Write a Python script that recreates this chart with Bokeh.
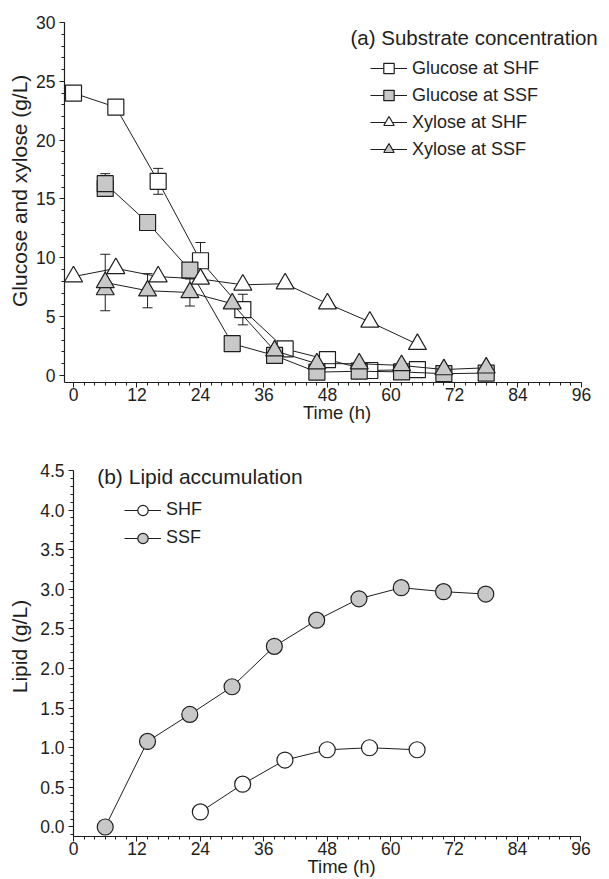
from bokeh.plotting import figure
from bokeh.models import (Range1d, SingleIntervalTicker, Legend, LegendItem, Label,
                          Whisker, ColumnDataSource, TeeHead, PrintfTickFormatter)
from bokeh.embed import file_html
from bokeh.resources import INLINE

# ---------------- data: (a) substrate concentration ----------------
glc_shf_t = [0, 8, 16, 24, 32, 40, 48, 56, 65]
glc_shf_v = [24.0, 22.8, 16.5, 9.75, 5.6, 2.25, 1.35, 0.42, 0.5]
glc_shf_e = [0, 0, 1.1, 1.55, 1.3, 0.3, 0.3, 0, 0]

glc_ssf_t = [6, 6, 14, 22, 30, 38, 46, 54, 62, 70, 78]
glc_ssf_v = [15.9, 16.3, 13.0, 8.95, 2.7, 1.7, 0.28, 0.36, 0.3, 0.15, 0.2]
glc_ssf_e = [0, 0.85, 0, 0, 0, 0, 0, 0, 0, 0, 0]

xyl_shf_t = [0, 8, 16, 24, 32, 40, 48, 56, 65]
xyl_shf_v = [8.4, 9.1, 8.4, 8.2, 7.7, 7.8, 6.1, 4.55, 2.65]
xyl_shf_e = [0, 0, 0, 0, 0, 0, 0, 0, 0]

xyl_ssf_t = [6, 6, 14, 22, 30, 38, 46, 54, 62, 70, 78]
xyl_ssf_v = [7.3, 7.9, 7.2, 7.05, 6.1, 2.1, 1.0, 1.0, 0.85, 0.5, 0.65]
xyl_ssf_e = [0, 2.4, 1.45, 1.15, 0, 0, 0, 0, 0, 0, 0]

# ---------------- data: (b) lipid accumulation ----------------
lip_shf_t = [24, 32, 40, 48, 56, 65]
lip_shf_v = [0.19, 0.54, 0.845, 0.975, 1.0, 0.975]

lip_ssf_t = [6, 14, 22, 30, 38, 46, 54, 62, 70, 78]
lip_ssf_v = [0.0, 1.08, 1.42, 1.77, 2.28, 2.61, 2.88, 3.02, 2.97, 2.94]

title_a = "(a) Substrate concentration"
title_b = "(b) Lipid accumulation"
ylabel_a = "Glucose and xylose (g/L)"
ylabel_b = "Lipid (g/L)"
xlabel = "Time (h)"

FONT = "Liberation Sans"
INK = "#1e1e1e"
GRAY = "#c8c8c8"
NBSP = "\u00a0"


def base_fig(h, top, bottom, left, xr, yr, xb, yb, yint, ylab, ylab_standoff):
    p = figure(width=609, height=h, x_range=Range1d(*xr), y_range=Range1d(*yr),
               output_backend="svg", toolbar_location=None, tools="",
               min_border_left=left, min_border_right=0,
               min_border_top=top, min_border_bottom=bottom)
    p.outline_line_color = None
    p.grid.visible = False
    p.background_fill_color = "white"
    p.border_fill_color = "white"
    xa = p.xaxis[0]
    ya = p.yaxis[0]
    xa.ticker = SingleIntervalTicker(interval=12, num_minor_ticks=6)
    ya.ticker = SingleIntervalTicker(interval=yint, num_minor_ticks=5)
    xa.bounds = xb
    ya.bounds = yb
    for ax in (xa, ya):
        ax.axis_line_color = INK
        ax.axis_line_width = 1.2
        ax.major_tick_line_color = INK
        ax.minor_tick_line_color = INK
        ax.major_tick_in = 0
        ax.major_tick_out = 5
        ax.minor_tick_in = 0
        ax.minor_tick_out = 3
        ax.major_label_text_font = FONT
        ax.major_label_text_font_size = "17.5px"
        ax.major_label_text_color = INK
        ax.axis_label_text_font = FONT
        ax.axis_label_text_font_style = "normal"
        ax.axis_label_text_color = INK
    xa.major_label_standoff = 0
    ya.major_label_standoff = 4
    xa.axis_label = xlabel
    xa.axis_label_text_font_size = "18.5px"
    xa.axis_label_standoff = -2
    ya.axis_label = ylab
    ya.axis_label_text_font_size = "21px"
    ya.axis_label_standoff = ylab_standoff
    return p


def series(p, t, v, marker, fill, size):
    ln = p.line(t, v, line_color=INK, line_width=1)
    sc = p.scatter(t, v, marker=marker, size=size, fill_color=fill,
                   line_color=INK, line_width=1.2)
    return [ln, sc]


def errbars(p, t, v, e):
    bt = [a for a, c in zip(t, e) if c > 0]
    hi = [b + c for b, c in zip(v, e) if c > 0]
    lo = [b - c for b, c in zip(v, e) if c > 0]
    if not bt:
        return
    src = ColumnDataSource(data=dict(t=bt, hi=hi, lo=lo))
    w = Whisker(source=src, base="t", upper="hi", lower="lo", line_color=INK, line_width=1,
                upper_head=TeeHead(size=10, line_color=INK, line_width=1),
                lower_head=TeeHead(size=10, line_color=INK, line_width=1))
    p.add_layout(w)


def add_legend(p, items, vx, vy, spacing):
    lg = Legend(items=items, location=(vx, vy), orientation="vertical",
                label_text_font=FONT, label_text_font_size="18px", label_text_color=INK,
                glyph_width=37, glyph_height=26, label_height=26, label_standoff=5,
                spacing=spacing, padding=0, margin=0,
                border_line_color=None, background_fill_alpha=0)
    p.add_layout(lg, "center")


# ---------------- panel (a) ----------------
# leading no-break spaces lift the rotated label to where the reference has it
pa = base_fig(430, 22, 48, 64, (-1.7, 101.3), (-0.6, 30), (-1.7, 96), (-0.6, 30), 5,
              NBSP * 4 + ylabel_a, 2)
for t, v, e in [(glc_shf_t, glc_shf_v, glc_shf_e), (glc_ssf_t, glc_ssf_v, glc_ssf_e),
                (xyl_shf_t, xyl_shf_v, xyl_shf_e), (xyl_ssf_t, xyl_ssf_v, xyl_ssf_e)]:
    errbars(pa, t, v, e)
r1 = series(pa, glc_shf_t, glc_shf_v, "square", "white", 16)
r2 = series(pa, glc_ssf_t, glc_ssf_v, "square", GRAY, 16)
r3 = series(pa, xyl_shf_t, xyl_shf_v, "triangle", "white", 18)
r4 = series(pa, xyl_ssf_t, xyl_ssf_v, "triangle", GRAY, 18)
add_legend(pa, [LegendItem(label="Glucose at SHF", renderers=r1),
                LegendItem(label="Glucose at SSF", renderers=r2),
                LegendItem(label="Xylose at SHF", renderers=r3),
                LegendItem(label="Xylose at SSF", renderers=r4)], 306, 220, 1)
pa.add_layout(Label(x=286, y=345.5, x_units="screen", y_units="screen", text=title_a,
                    text_font=FONT, text_font_size="20.5px", text_color=INK,
                    text_baseline="middle", text_align="left"))

# ---------------- panel (b) ----------------
pb = base_fig(449, 32, 43, 73, (0, 101.4), (-0.12, 4.6), (0, 96), (-0.12, 4.5), 0.5,
              NBSP * 1 + ylabel_b, 6)
pb.yaxis[0].formatter = PrintfTickFormatter(format="%.1f")
s1 = series(pb, lip_shf_t, lip_shf_v, "circle", "white", 16)
s2 = series(pb, lip_ssf_t, lip_ssf_v, "circle", GRAY, 16)
add_legend(pb, [LegendItem(label="SHF", renderers=s1),
                LegendItem(label="SSF", renderers=s2)], 51, 285.5, 2)
pb.add_layout(Label(x=23.7, y=360.5, x_units="screen", y_units="screen", text=title_b,
                    text_font=FONT, text_font_size="21px", text_color=INK,
                    text_baseline="middle", text_align="left"))

# two independent roots, stacked, so the two frames are not forced to align
open("out.html", "w").write(file_html([pa, pb], INLINE))
